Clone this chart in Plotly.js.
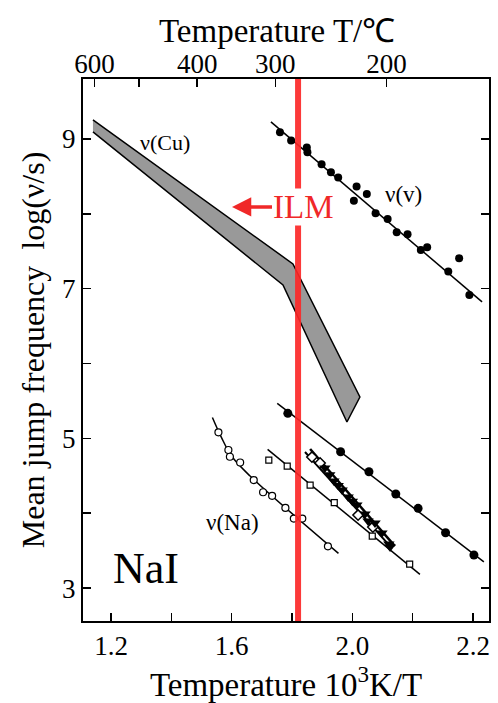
<!DOCTYPE html>
<html>
<head>
<meta charset="utf-8">
<script src="https://cdn.plot.ly/plotly-3.0.1.min.js"></script>
<style>html,body{margin:0;padding:0;background:#fff;}#chart{width:498px;height:703px;}</style>
</head>
<body>
<div id="chart"></div>
<script>
// ---- axis ticks ----
const xTickVals = [1.2, 1.6, 2.0, 2.4];
const xTickText = ['1.2', '1.6', '2.0', '2.2'];   // as printed on the figure
const xMinorVals = [1.4, 1.8, 2.2];
const yTickVals = [3, 5, 7, 9];
const yTickText = ['3', '5', '7', '9'];
const yMinorVals = [4, 6, 8];
const tempC = [600, 400, 300, 200];
const tempCText = ['600', '400', '300', '200'];
const tempCMinor = [500];

// ---- ILM marker ----
const ilmX = 1.82;

// ---- nu(Cu) band (upper edge then lower edge) ----
const cuUpperX = [1.140, 1.803, 2.025];
const cuUpperY = [9.254, 7.330, 5.552];
const cuLowerX = [1.982, 1.770, 1.140];
const cuLowerY = [5.218, 7.049, 9.094];

// ---- nu(v) ----
const vacX = [1.760, 1.797, 1.849, 1.851, 1.898, 1.929, 1.953, 2.014, 2.005, 2.048, 2.077, 2.117, 2.147, 2.183, 2.227, 2.248, 2.318, 2.354, 2.388];
const vacY = [9.090, 8.977, 8.884, 8.822, 8.662, 8.555, 8.483, 8.363, 8.175, 8.265, 8.007, 7.931, 7.753, 7.726, 7.517, 7.553, 7.227, 7.406, 6.915];
const vacFitX = [1.730, 2.430];
const vacFitY = [9.227, 6.822];

// ---- filled circles (upper lower-group line) ----
const fcX = [1.786, 1.961, 2.055, 2.144, 2.218, 2.309, 2.403];
const fcY = [5.334, 4.821, 4.554, 4.256, 4.065, 3.739, 3.441];
const fcFitX = [1.751, 2.436];
const fcFitY = [5.468, 3.351];

// ---- open squares ----
const sqX = [1.723, 1.784, 1.860, 1.940, 2.066, 2.190];
const sqY = [4.710, 4.630, 4.376, 4.140, 3.695, 3.320];
const sqFitX = [1.719, 2.224];
const sqFitY = [4.853, 3.183];

// ---- nu(Na) open circles ----
const naX = [1.556, 1.589, 1.594, 1.628, 1.673, 1.704, 1.734, 1.778, 1.806, 1.834, 1.919];
const naY = [5.080, 4.844, 4.754, 4.677, 4.443, 4.280, 4.232, 4.071, 3.928, 3.928, 3.557];
const naFitX = [1.536, 1.565, 1.600, 1.660, 1.954];
const naFitY = [5.278, 5.020, 4.760, 4.500, 3.463];

// ---- steep cluster: filled triangles and open diamonds ----
const triX = [1.909, 1.925, 1.939, 1.953, 1.966, 1.986, 2.000, 2.015, 2.042, 2.052, 2.075, 2.098, 2.121, 2.125];
const triY = [4.603, 4.515, 4.430, 4.370, 4.309, 4.216, 4.160, 4.109, 3.989, 3.895, 3.868, 3.735, 3.588, 3.548];
const triFitX = [1.860, 2.141];
const triFitY = [4.857, 3.561];
const diaX = [1.866, 1.893, 2.019, 2.068];
const diaY = [4.750, 4.670, 3.975, 3.815];
const diaFitX = [1.843, 2.131];
const diaFitY = [4.817, 3.534];

const xRange = [1.107, 2.453];
const yRange = [2.56, 9.80];

const FONT = 'Liberation Serif, Times New Roman, serif';
const lineStyle = {color: '#000', width: 1.5};

const traces = [
  {x: cuUpperX.concat(cuLowerX), y: cuUpperY.concat(cuLowerY), mode: 'lines', fill: 'toself',
   fillcolor: '#999999', line: lineStyle, hoverinfo: 'skip'},
  {x: vacFitX, y: vacFitY, mode: 'lines', line: lineStyle},
  {x: vacX, y: vacY, mode: 'markers', marker: {symbol: 'circle', size: 8, color: '#000'}},
  {x: fcFitX, y: fcFitY, mode: 'lines', line: lineStyle},
  {x: fcX, y: fcY, mode: 'markers', marker: {symbol: 'circle', size: 9, color: '#000'}},
  {x: sqFitX, y: sqFitY, mode: 'lines', line: lineStyle},
  {x: sqX, y: sqY, mode: 'markers', marker: {symbol: 'square', size: 6, color: '#fff', line: {color: '#000', width: 1.2}}},
  {x: naFitX, y: naFitY, mode: 'lines', line: {color: '#000', width: 1.5, shape: 'spline'}},
  {x: naX, y: naY, mode: 'markers', marker: {symbol: 'circle', size: 7, color: '#fff', line: {color: '#000', width: 1.2}}},
  {x: diaFitX, y: diaFitY, mode: 'lines', line: {color: '#000', width: 2}},
  {x: triFitX, y: triFitY, mode: 'lines', line: {color: '#000', width: 2.5}},
  {x: diaX, y: diaY, mode: 'markers', marker: {symbol: 'diamond', size: 8, color: '#fff', line: {color: '#000', width: 1.5}}},
  {x: triX, y: triY, mode: 'markers', marker: {symbol: 'triangle-down', size: 10, color: '#000'}},
  // ILM red line on the overlaying (top) axis so it is drawn above everything
  {x: [ilmX, ilmX], y: yRange, xaxis: 'x2', mode: 'lines', line: {color: 'rgba(252,40,40,0.92)', width: 6}, hoverinfo: 'skip'}
];

function axisBase(minorVals) {
  return {
    ticks: 'inside', ticklen: 8, tickwidth: 1.5, tickcolor: '#000',
    showgrid: false, zeroline: false, tickmode: 'array',
    minor: {tickmode: 'array', tickvals: minorVals, ticks: 'inside', ticklen: 8, tickwidth: 1.5, tickcolor: '#000', showgrid: false},
    tickfont: {family: FONT, size: 27, color: '#000'}
  };
}

const layout = {
  width: 498, height: 703,
  margin: {l: 83, r: 9, t: 79, b: 82},
  paper_bgcolor: '#fff', plot_bgcolor: '#fff',
  showlegend: false,
  font: {family: FONT, color: '#000'},
  xaxis: Object.assign(axisBase(xMinorVals), {
    range: xRange, tickvals: xTickVals, ticktext: xTickText,
    showline: true, linewidth: 2, linecolor: '#000', mirror: true,
    title: {text: 'Temperature 10<sup>3</sup>K/T', font: {family: FONT, size: 33, color: '#000'}, standoff: 2}
  }),
  xaxis2: Object.assign(axisBase(tempCMinor.map(c => 1000 / (c + 273.15))), {
    overlaying: 'x', side: 'top', anchor: 'y', range: xRange,
    tickvals: tempC.map(c => 1000 / (c + 273.15)), ticktext: tempCText,
    showline: false
  }),
  yaxis: Object.assign(axisBase(yMinorVals), {
    range: yRange, tickvals: yTickVals, ticktext: yTickText,
    showline: true, linewidth: 2, linecolor: '#000', mirror: 'ticks',
    title: {text: 'Mean jump frequency  log(ν/s)', font: {family: FONT, size: 32, color: '#000'}, standoff: 8}
  }),
  annotations: [
    {x: 0.477, y: 1.088, xref: 'paper', yref: 'paper', xanchor: 'center', yanchor: 'middle',
     text: 'Temperature T/℃', showarrow: false, font: {family: FONT, size: 33, color: '#000'}},
    {x: 1.379, y: 8.947, xref: 'x', yref: 'y', text: 'ν(Cu)', showarrow: false, font: {family: FONT, size: 22, color: '#000'}},
    {x: 2.168, y: 8.252, xref: 'x', yref: 'y', text: 'ν(v)', showarrow: false, font: {family: FONT, size: 23, color: '#000'}},
    {x: 1.604, y: 3.882, xref: 'x', yref: 'y', text: 'ν(Na)', showarrow: false, font: {family: FONT, size: 23, color: '#000'}},
    {x: 1.316, y: 3.267, xref: 'x', yref: 'y', text: 'NaI', showarrow: false, font: {family: FONT, size: 44, color: '#000'}},
    {x: 1.601, y: 8.091, xref: 'x', yref: 'y', text: 'ILM', showarrow: true, ax: 71, ay: 0,
     arrowhead: 2, arrowsize: 1.1, arrowwidth: 3.5, arrowcolor: '#f02828',
     bgcolor: '#fff', borderpad: 0, font: {family: FONT, size: 33, color: '#f02828'}}
  ]
};

Plotly.newPlot('chart', traces, layout, {displayModeBar: false, staticPlot: true});
</script>
</body>
</html>
